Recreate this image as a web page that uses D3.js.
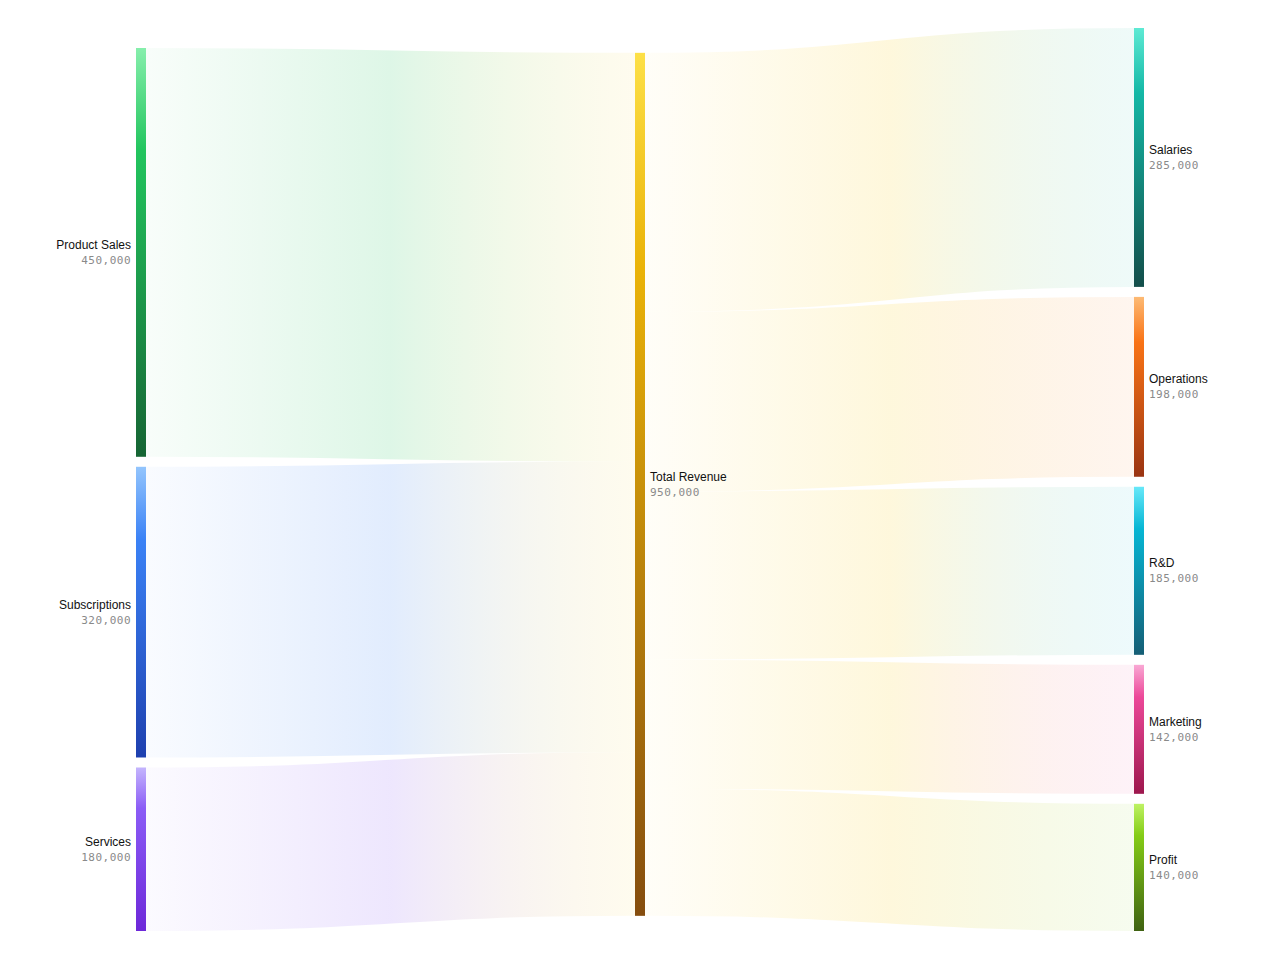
<!DOCTYPE html>
<html>
<head>
<meta charset="utf-8">
<script src="https://cdn.jsdelivr.net/npm/d3@7"></script>
<style>
  html, body { margin: 0; padding: 0; background: #ffffff; }
  svg { display: block; }
</style>
</head>
<body>
<svg id="chart" width="1280" height="960"></svg>
<script>
// ---------------- DATA ----------------
const nodeNames = ["Product Sales", "Subscriptions", "Services", "Total Revenue",
                   "Salaries", "Operations", "R&D", "Marketing", "Profit"];
const nodeColorsLight = ["#86efac", "#93c5fd", "#c4b5fd", "#fde047",
                         "#5eead4", "#fdba74", "#67e8f9", "#f9a8d4", "#bef264"];
const nodeColorsMid   = ["#22c55e", "#3b82f6", "#8b5cf6", "#eab308",
                         "#14b8a6", "#f97316", "#06b6d4", "#ec4899", "#84cc16"];
const nodeColorsDark  = ["#166534", "#1e40af", "#6d28d9", "#854d0e",
                         "#134e4a", "#9a3412", "#155e75", "#9d174d", "#3f6212"];
const linkTints       = ["#22c55e", "#3b82f6", "#8b5cf6", "#facc15",
                         "#14b8a6", "#f97316", "#06b6d4", "#ec4899", "#84cc16"];

const linkSources = ["Product Sales", "Subscriptions", "Services",
                     "Total Revenue", "Total Revenue", "Total Revenue", "Total Revenue", "Total Revenue"];
const linkTargets = ["Total Revenue", "Total Revenue", "Total Revenue",
                     "Salaries", "Operations", "R&D", "Marketing", "Profit"];
const linkValues  = [450000, 320000, 180000, 285000, 198000, 185000, 142000, 140000];

// ---------------- LAYOUT (classic sankey relaxation, inline) ----------------
const ext = { x0: 136, y0: 28, x1: 1144, y1: 931 };
const nodeWidth = 10, py = 10, iterations = 32;

const nodes = nodeNames.map((name, i) => ({ name, index: i }));
const byName = new Map(nodes.map(n => [n.name, n]));
const links = linkValues.map((v, i) => ({
  source: byName.get(linkSources[i]), target: byName.get(linkTargets[i]), value: v, index: i
}));

for (const n of nodes) { n.sourceLinks = []; n.targetLinks = []; }
for (const l of links) { l.source.sourceLinks.push(l); l.target.targetLinks.push(l); }
for (const n of nodes) n.value = Math.max(d3.sum(n.sourceLinks, l => l.value), d3.sum(n.targetLinks, l => l.value));

let current = nodes, xd = 0;
while (current.length) {
  const next = new Set();
  for (const n of current) { n.depth = xd; for (const { target } of n.sourceLinks) next.add(target); }
  xd++; current = Array.from(next);
}
const nLayers = xd;
for (const n of nodes) n.layer = n.sourceLinks.length ? n.depth : nLayers - 1;

const xScale = d3.scaleLinear().domain([0, nLayers - 1]).range([ext.x0, ext.x1 - nodeWidth]);
for (const n of nodes) { n.x0 = xScale(n.layer); n.x1 = n.x0 + nodeWidth; }

const columns = Array.from(d3.group(nodes, n => String(n.x0)))
  .sort((a, b) => d3.ascending(a[0], b[0]))
  .map(d => d[1]);

const ky = d3.min(columns, c => (ext.y1 - ext.y0 - (c.length - 1) * py) / d3.sum(c, n => n.value));
const hScale = d3.scaleLinear().domain([0, 1]).range([0, ky]);

const center = n => (n.y0 + n.y1) / 2;
columns.forEach(col => col.forEach((n, i) => { n.y0 = i; n.y1 = i + hScale(n.value); }));
links.forEach(l => { l.width = hScale(l.value); });

function resolveCollisions() {
  columns.forEach(col => {
    let node, dy, y = ext.y0, i;
    const n = col.length;
    col.sort((a, b) => a.y0 - b.y0);
    for (i = 0; i < n; ++i) {
      node = col[i]; dy = y - node.y0;
      if (dy > 0) { node.y0 += dy; node.y1 += dy; }
      y = node.y1 + py;
    }
    dy = y - py - ext.y1;
    if (dy > 0) {
      y = (node.y0 -= dy); node.y1 -= dy;
      for (i = n - 2; i >= 0; --i) {
        node = col[i]; dy = node.y1 + py - y;
        if (dy > 0) { node.y0 -= dy; node.y1 -= dy; }
        y = node.y0;
      }
    }
  });
}
function relaxLeftToRight(alpha) {
  columns.forEach(col => col.forEach(node => {
    if (node.targetLinks.length) {
      const dy = (d3.sum(node.targetLinks, l => center(l.source) * l.value) /
                  d3.sum(node.targetLinks, l => l.value) - center(node)) * alpha;
      node.y0 += dy; node.y1 += dy;
    }
  }));
}
function relaxRightToLeft(alpha) {
  columns.slice().reverse().forEach(col => col.forEach(node => {
    if (node.sourceLinks.length) {
      const dy = (d3.sum(node.sourceLinks, l => center(l.target) * l.value) /
                  d3.sum(node.sourceLinks, l => l.value) - center(node)) * alpha;
      node.y0 += dy; node.y1 += dy;
    }
  }));
}
resolveCollisions();
for (let alpha = 1, k = iterations; k > 0; --k) {
  relaxRightToLeft(alpha *= 0.99);
  resolveCollisions();
  relaxLeftToRight(alpha);
  resolveCollisions();
}
for (const n of nodes) {
  n.sourceLinks.sort((a, b) => a.target.y0 - b.target.y0);
  n.targetLinks.sort((a, b) => a.source.y0 - b.source.y0);
}
for (const n of nodes) {
  let a = n.y0, b = n.y0;
  for (const l of n.sourceLinks) { l.y0 = a + l.width / 2; a += l.width; }
  for (const l of n.targetLinks) { l.y1 = b + l.width / 2; b += l.width; }
}

// ---------------- DRAW ----------------
const svg = d3.select("#chart");
const defs = svg.append("defs");

nodes.forEach(n => {
  const g = defs.append("linearGradient").attr("id", "ng" + n.index)
    .attr("x1", 0).attr("y1", 0).attr("x2", 0).attr("y2", 1);
  g.append("stop").attr("offset", "0%").attr("stop-color", nodeColorsLight[n.index]);
  g.append("stop").attr("offset", "25%").attr("stop-color", nodeColorsMid[n.index]);
  g.append("stop").attr("offset", "100%").attr("stop-color", nodeColorsDark[n.index]);
});

links.forEach(l => {
  const g = defs.append("linearGradient").attr("id", "lg" + l.index)
    .attr("gradientUnits", "userSpaceOnUse")
    .attr("x1", l.source.x1).attr("x2", l.target.x0).attr("y1", 0).attr("y2", 0);
  g.append("stop").attr("offset", "0%").attr("stop-color", linkTints[l.source.index]).attr("stop-opacity", 0.03);
  g.append("stop").attr("offset", "50%").attr("stop-color", linkTints[l.source.index]).attr("stop-opacity", 0.15);
  g.append("stop").attr("offset", "100%").attr("stop-color", linkTints[l.target.index]).attr("stop-opacity", 0.07);
});

const linkGen = d3.linkHorizontal()
  .source(d => [d.source.x1, d.y0])
  .target(d => [d.target.x0, d.y1]);

svg.append("g").attr("fill", "none")
  .selectAll("path").data(links).join("path")
  .attr("d", linkGen)
  .attr("stroke", d => `url(#lg${d.index})`)
  .attr("stroke-width", d => Math.max(1, d.width));

svg.append("g").selectAll("rect").data(nodes).join("rect")
  .attr("x", d => d.x0).attr("y", d => d.y0)
  .attr("width", d => d.x1 - d.x0).attr("height", d => d.y1 - d.y0)
  .attr("fill", d => `url(#ng${d.index})`);

const fmt = d3.format(",");
const labels = svg.append("g").selectAll("g").data(nodes).join("g")
  .attr("transform", d => {
    const left = d.layer === 0;
    return `translate(${left ? d.x0 - 5 : d.x1 + 5},${(d.y0 + d.y1) / 2})`;
  })
  .attr("text-anchor", d => d.layer === 0 ? "end" : "start");

labels.append("text")
  .attr("y", -3.5)
  .attr("font-family", "'Liberation Sans', Arial, Helvetica, sans-serif")
  .attr("font-size", 12)
  .attr("fill", "#111")
  .text(d => d.name);

labels.append("text")
  .attr("y", 11.5)
  .attr("font-family", "'DejaVu Sans Mono', Menlo, monospace")
  .attr("font-size", 11)
  .attr("letter-spacing", "0.5px")
  .attr("fill", "#8a8a8a")
  .text(d => fmt(d.value));
</script>
</body>
</html>
